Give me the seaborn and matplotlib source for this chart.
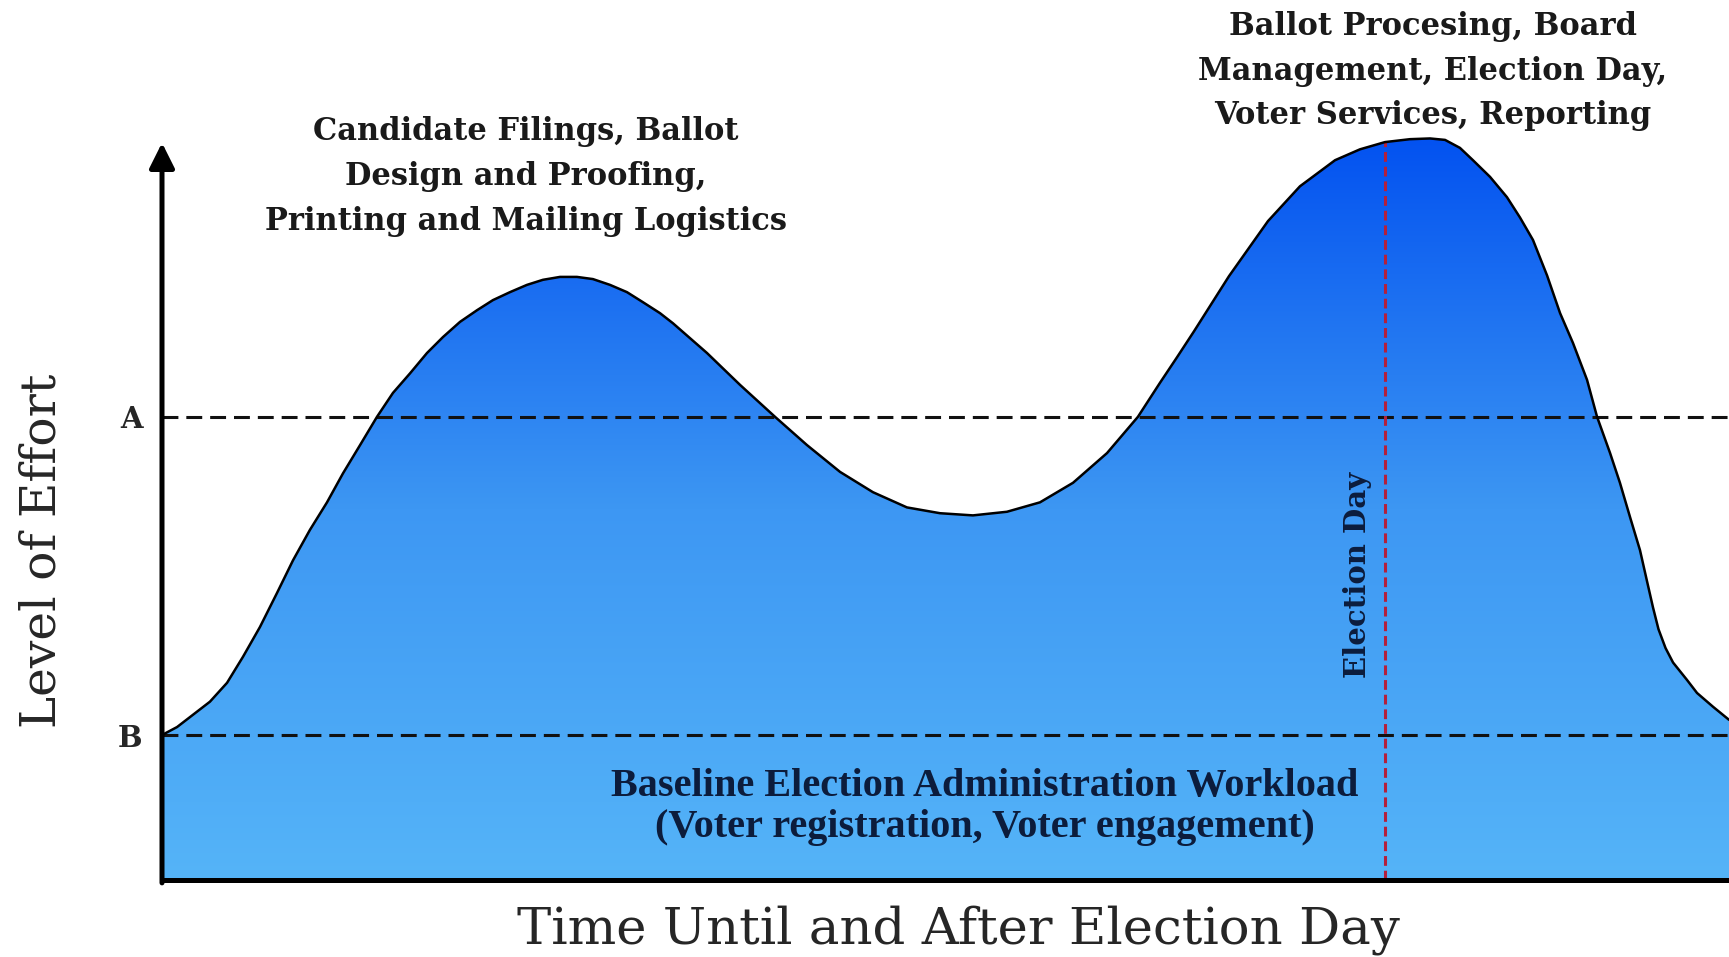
import numpy as np
import pandas as pd
import matplotlib
matplotlib.use('Agg')
import matplotlib.pyplot as plt
import seaborn as sns
from matplotlib.colors import LinearSegmentedColormap

# Workload curve (time 0-100, effort in arbitrary units)
time = [0.0, 0.96, 1.98, 3.06, 4.15, 5.17, 6.25, 7.34, 8.36, 9.44, 10.53,
        11.55, 12.64, 13.72, 14.74, 15.83, 16.91, 17.93, 19.02, 20.10, 21.12,
        22.21, 23.29, 24.31, 25.40, 26.48, 27.50, 28.59, 29.67, 30.70, 31.78,
        32.61, 34.78, 36.89, 39.12, 41.16, 43.27, 45.37, 47.54, 49.65, 51.75,
        53.92, 56.03, 58.14, 60.31, 62.28, 63.69, 64.77, 65.86, 68.09, 70.58,
        72.62, 74.86, 76.45, 78.05, 79.64, 80.92, 81.88, 82.83, 83.66, 84.75,
        85.83, 86.66, 87.49, 88.39, 89.22, 90.04, 90.94, 91.58, 92.41, 93.04,
        93.68, 94.32, 94.77, 95.15, 95.50, 95.95, 96.43, 97.32, 97.96, 98.98,
        100.0]
effort = [20.0, 21.1, 22.8, 24.6, 27.2, 30.8, 34.9, 39.6, 44.1, 48.3, 52.1,
          56.1, 60.0, 63.9, 67.2, 69.9, 72.7, 74.9, 77.0, 78.6, 80.0,
          81.1, 82.1, 82.8, 83.2, 83.2, 82.9, 82.1, 81.1, 79.7, 78.2,
          76.8, 72.7, 68.3, 63.9, 60.0, 56.3, 53.5, 51.4, 50.6, 50.3,
          50.8, 52.1, 54.8, 58.9, 63.9, 68.6, 72.1, 75.7, 83.3, 90.9,
          95.7, 99.3, 100.8, 101.8, 102.2, 102.3, 102.1, 101.0, 99.3, 97.0,
          94.2, 91.4, 88.3, 83.4, 78.2, 74.1, 69.0, 63.9, 58.9, 54.8,
          50.1, 45.5, 41.2, 37.6, 34.6, 32.0, 30.0, 27.6, 25.8, 23.9,
          22.1]

level_labels = ['B', 'A']
level_values = [20.0, 63.9]
election_day = 78.05

early_text = 'Candidate Filings, Ballot\nDesign and Proofing,\nPrinting and Mailing Logistics'
late_text = 'Ballot Procesing, Board\nManagement, Election Day,\nVoter Services, Reporting'
base_text = 'Baseline Election Administration Workload\n(Voter registration, Voter engagement)'

sns.set_style('white')
plt.rcParams['font.family'] = ['DejaVu Serif']

fig = plt.figure(figsize=(17.29, 9.57), dpi=100)
ax = fig.add_axes([162 / 1729, 77 / 957, 1567 / 1729, 880 / 957])

df = pd.DataFrame({'time': time, 'effort': effort})

# Gradient fill under the curve
poly = ax.fill_between(df['time'], 0, df['effort'], color='none', lw=0)
cmap = LinearSegmentedColormap.from_list('effort', ['#55b4f8', '#3d97f3', '#0352f0'])
grad = np.linspace(0, 1, 256).reshape(-1, 1)
img = ax.imshow(grad, cmap=cmap, extent=[0, 100, 0, max(effort)],
                origin='lower', aspect='auto', zorder=1)
img.set_clip_path(poly.get_paths()[0], transform=ax.transData)

# Curve outline
sns.lineplot(data=df, x='time', y='effort', color='black', lw=1.8,
             ax=ax, zorder=4)

# Reference levels A and B
for val in level_values:
    ax.axhline(val, color='#111111', lw=2.2, ls=(0, (5.2, 2.6)), zorder=3)

# Election day marker
top = np.interp(election_day, time, effort)
ax.vlines(election_day, 0, top, color='#b3203c', lw=2.2,
          ls=(0, (3.2, 1.6)), zorder=3)

ax.set_xlim(0, 100)
ax.set_ylim(0, 121.4)

# Axes: bottom line and arrow on the left
for s in ax.spines.values():
    s.set_visible(False)
ax.axhline(0, color='black', lw=3.6, clip_on=False, zorder=5)
ax.annotate('', xy=(0, 101.7), xytext=(0, -0.4),
            arrowprops=dict(arrowstyle='-|>', lw=3.6, color='black',
                            mutation_scale=38, shrinkA=0, shrinkB=0),
            annotation_clip=False, zorder=5)

ax.set_xticks([])
ax.set_yticks(level_values, level_labels)
ax.tick_params(axis='y', length=0, pad=14, labelsize=21)
for t in ax.get_yticklabels():
    t.set_fontweight('bold')

ax.set_xlabel('Time Until and After Election Day', fontsize=37, va='center')
ax.xaxis.set_label_coords(0.508, -0.057)
ax.set_ylabel('Level of Effort', fontsize=35, va='center')
ax.yaxis.set_label_coords(-0.0766, 0.374)

# Annotations
ax.text(23.2, 97.0, early_text, ha='center', va='center', fontsize=22,
        fontweight='bold', linespacing=1.58, color='#1a1a1a')
ax.text(81.1, 111.6, late_text, ha='center', va='center', fontsize=22,
        fontweight='bold', linespacing=1.58, color='#1a1a1a')
ax.text(76.3, 42.1, 'Election Day', rotation=90, ha='center', va='center',
        fontsize=21, fontweight='bold', color='#0c1c3c', zorder=6)
ax.text(52.5, 10.1, base_text, ha='center', va='center',
        family=['Liberation Serif'], fontsize=29, fontweight='bold',
        linespacing=1.15, color='#0c1c3c', zorder=6)

fig.savefig('out.png', dpi=100)
